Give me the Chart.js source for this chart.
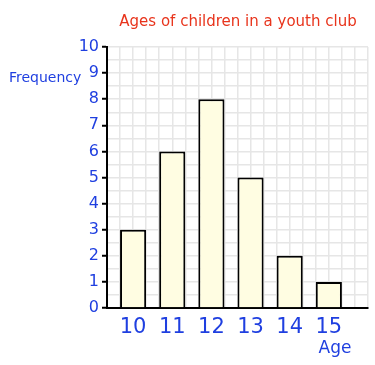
<!DOCTYPE html>
<html>
<head>
<meta charset="utf-8">
<script src="https://cdn.jsdelivr.net/npm/chart.js@4"></script>
<style>
  html, body { margin: 0; padding: 0; background: #fff; }
  #wrap { width: 375px; height: 365px; position: relative; }
</style>
</head>
<body>
<div id="wrap"><canvas id="chart"></canvas></div>
<script>
const TITLE = "Ages of children in a youth club";
const AGES = ["10", "11", "12", "13", "14", "15"];
const FREQUENCY = [3, 6, 8, 5, 2, 1];
const Y_TICKS = [0, 1, 2, 3, 4, 5, 6, 7, 8, 9, 10];

const BLUE = "#1f3fe0";
const RED = "#e8341c";
const GRID = "#e6e6e6";
const FONT = "'DejaVu Sans', sans-serif";

// each age sits in a slot of 3 grid cells, bar covers 2 of them
const slotOf = i => 3 * i + 2;
const labelAt = v => {
  const i = (v - 2) / 3;
  return Number.isInteger(i) && i >= 0 && i < AGES.length ? AGES[i] : "";
};

const extraText = {
  id: "extraText",
  afterDraw(chart) {
    const c = chart.ctx;
    c.save();
    c.textBaseline = "middle";
    c.fillStyle = RED;
    c.font = `15px ${FONT}`;
    c.textAlign = "center";
    c.fillText(TITLE, 238, 22);
    c.fillStyle = BLUE;
    c.textAlign = "left";
    c.font = `14px ${FONT}`;
    c.fillText("Frequency", 9, 78);
    c.textAlign = "center";
    c.font = `17px ${FONT}`;
    c.fillText("Age", 335, 349);
    c.restore();
  }
};

new Chart(document.getElementById("chart"), {
  type: "bar",
  data: {
    datasets: [{
      data: FREQUENCY.map((f, i) => ({ x: slotOf(i), y: f })),
      backgroundColor: "#fffde2",
      borderColor: "#000",
      borderWidth: 2,
      categoryPercentage: 1,
      barPercentage: 2, // min spacing is one grid cell, bar spans two
    }]
  },
  options: {
    responsive: true,
    maintainAspectRatio: false,
    animation: false,
    layout: { padding: { top: 47, right: 7, left: 0, bottom: 0 } },
    plugins: { legend: { display: false }, tooltip: { enabled: false } },
    scales: {
      x: {
        type: "linear",
        min: 0, max: 20,
        offset: false,
        afterFit: s => { s.height = 57; },
        ticks: {
          stepSize: 1, autoSkip: false, maxRotation: 0,
          color: BLUE, font: { family: FONT, size: 21 }, padding: 7,
          callback: v => labelAt(v),
        },
        grid: { color: GRID, lineWidth: 1.5, drawTicks: false, offset: false },
        border: { color: "#000", width: 2 },
      },
      y: {
        min: Y_TICKS[0], max: Y_TICKS[Y_TICKS.length - 1],
        afterFit: s => { s.width = 107; },
        ticks: {
          stepSize: 0.5, autoSkip: false,
          color: BLUE, font: { family: FONT, size: 16 }, padding: 3,
          callback: v => Y_TICKS.includes(v) ? String(v) : "",
        },
        grid: {
          color: GRID, lineWidth: 1.5, tickLength: 5,
          tickColor: ctx => Number.isInteger(ctx.tick.value) ? "#000" : "rgba(0,0,0,0)",
          tickWidth: 2,
        },
        border: { color: "#000", width: 2 },
      }
    }
  },
  plugins: [extraText]
});
</script>
</body>
</html>
